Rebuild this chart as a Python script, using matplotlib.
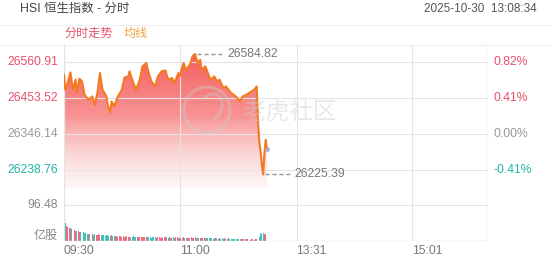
import numpy as np
import matplotlib
matplotlib.use("Agg")
import matplotlib.pyplot as plt
from matplotlib.lines import Line2D
from matplotlib.patches import Circle, Arc, Polygon

plt.rcParams['font.family'] = ['Liberation Sans', 'Noto Sans CJK SC']

# ---- data ----
prev_close = 26346.14
price_min = [0, 1, 3, 5, 7, 9, 10, 12, 14, 16, 19, 22, 24, 26, 28, 30, 33, 34,
             36, 37, 39, 42, 45, 47, 50, 51, 54, 56, 59, 61, 64, 66, 68, 71, 73,
             76, 79, 81, 84, 86, 89, 90, 93, 95, 98, 100, 102, 104, 106, 107,
             110, 112, 114, 117, 119, 121, 124, 126, 128, 130, 132, 135, 137,
             139, 142, 144, 146, 148, 150, 151, 152, 153, 154, 155, 156, 157,
             158]
price_val = [26523.0, 26478.3, 26500.0, 26529.9, 26478.3, 26508.1, 26469.3,
             26511.1, 26503.0, 26463.4, 26448.4, 26458.3, 26433.5, 26469.3,
             26528.1, 26478.3, 26458.3, 26433.5, 26410.6, 26443.4, 26428.5,
             26458.3, 26478.3, 26514.1, 26518.0, 26532.9, 26498.3, 26478.3,
             26508.1, 26547.8, 26557.9, 26528.1, 26503.0, 26488.1, 26518.0,
             26532.9, 26535.9, 26508.1, 26513.2, 26498.3, 26528.1, 26518.0,
             26557.9, 26537.9, 26552.9, 26577.6, 26584.82, 26557.9, 26567.8,
             26537.9, 26547.8, 26528.1, 26508.1, 26518.0, 26503.0, 26508.1,
             26483.4, 26488.1, 26478.3, 26468.4, 26463.4, 26453.5, 26443.4,
             26458.3, 26463.4, 26468.4, 26473.2, 26478.3, 26488.1, 26384.0,
             26324.0, 26294.0, 26255.0, 26225.39, 26290.0, 26329.0, 26300.0]

# volume per minute (09:30 .. 13:08)
volume = [139,
          47, 40, 38, 36, 34, 32, 30, 30, 28, 27,
          26, 25, 24, 22, 23, 21, 22, 20, 19, 20,
          18, 19, 17, 18, 16, 17, 18, 16, 15, 16,
          15, 14, 16, 15, 14, 13, 15, 14, 13, 14,
          13, 12, 14, 13, 12, 13, 12, 11, 13, 12,
          12, 11, 12, 13, 11, 12, 10, 12, 11, 10,
          11, 10, 12, 11, 10, 11, 10, 9, 11, 10,
          10, 9, 10, 11, 9, 10, 9, 10, 12, 10,
          9, 10, 9, 8, 10, 9, 11, 10, 9, 8,
          9, 8, 10, 9, 8, 9, 8, 9, 10, 8,
          9, 10, 8, 9, 8, 7, 8, 9, 7, 8,
          7, 8, 7, 8, 7, 6, 7, 8, 7, 6,
          7, 6, 7, 6, 7, 6, 6, 7, 6, 5,
          6, 5, 6, 5, 6, 5, 5, 6, 5, 5,
          5, 6, 5, 5, 4, 5, 5, 4, 5, 5,
          41, 12, 22, 20, 21, 20, 18, 10]
vol_dir = ("r" "g" "rrrr" "gg" "rr" "g" "rr" "ggggggg" "rrr" "gg" "rrrr"
           "gggggggg" "r" "gg" "rrrrrrrrrrrr" "ggggg" "rrrrrrrr" "ggggggg"
           "rrrrrrrr" "gg" "rrr" "gg" "rrr" "g" "rrr" "gg" "rrrrrrr" "gg" "rr"
           "g" "rrr" "gggggg" "r" "gg" "rr" "ggg" "rr" "ggggggggggg"
           "rrrrrrrrrrrrr" "ggggg" "rr" "g")

left_ticks = [26560.91, 26453.52, 26346.14, 26238.76]
right_labels = ["0.82%", "0.41%", "0.00%", "-0.41%"]
label_colors = ["#e8506e", "#e8506e", "#999999", "#1fb5a5"]
x_ticks = [0, 90, 181, 271]
x_labels = ["09:30", "11:00", "13:31", "15:01"]
vol_tick = 96.48

W, H = 552, 265
fig = plt.figure(figsize=(W / 100, H / 100), dpi=100)


def px_axes(l, t, r, b):
    return fig.add_axes([l / W, 1 - b / H, (r - l) / W, (b - t) / H])


def ftext(x, y, s, **kw):
    fig.text(x / W, 1 - y / H, s, **kw)


RED = "#e8506e"
GREEN = "#26b5a8"
GRID = "#e4e4e4"
FS = 8.7

# header
ftext(20, 9, "HSI 恒生指数 - 分时", fontsize=8.9, color="#444444", va="center")
ftext(537, 9, "2025-10-30  13:08:34", fontsize=8.5, color="#555555",
      va="center", ha="right")
ftext(64, 34, "分时走势", fontsize=8.7, color="#e8506e", va="center")
ftext(124, 34, "均线", fontsize=8.7, color="#f0a040", va="center")
for yy in (24.5, 44.5):
    fig.add_artist(Line2D([0, 1], [1 - yy / H] * 2, color="#eeeeee", lw=0.8))

# ---- main price panel ----
ax = px_axes(64, 44, 488, 188)
step = left_ticks[0] - left_ticks[1]
ax.set_ylim(left_ticks[-1] - step / 2, left_ticks[0] + step / 2)
ax.set_xlim(0, 330)

xs = np.array(price_min, dtype=float)
ys = np.array(price_val)
y0, y1 = ax.get_ylim()

# gradient fill under the line
grad = np.linspace(0, 1, 256).reshape(-1, 1)
cmap = matplotlib.colors.LinearSegmentedColormap.from_list(
    "f", [(0.99, 0.86, 0.86, 0.25), (0.97, 0.5, 0.5, 0.85),
          (0.96, 0.33, 0.33, 1.0)])
im = ax.imshow(grad, extent=[0, 330, y0, y1], origin="lower", aspect="auto",
               cmap=cmap, zorder=1)
poly = Polygon(np.column_stack([np.r_[xs, xs[-1], xs[0]],
                                np.r_[ys, y0, y0]]),
               closed=True, transform=ax.transData, facecolor="none",
               edgecolor="none")
ax.add_patch(poly)
im.set_clip_path(poly)

ax.plot(xs, ys, color="#f47a20", lw=1.5, zorder=3)
ax.scatter([xs[-1]], [ys[-1]], s=7, color="#a4a8e0", alpha=0.7, zorder=4)

for v in left_ticks:
    ax.axhline(v, color=GRID, lw=0.8, zorder=2)
for t in x_ticks[1:]:
    ax.axvline(t, color=GRID, lw=0.8, zorder=2)
ax.axvline(0, color=GRID, lw=1.0, zorder=2)
ax.axvline(330, color=GRID, lw=1.0, zorder=2)

for v, lab, c in zip(left_ticks, right_labels, label_colors):
    ax.text(-6 / 424, v, f"{v:.2f}", transform=ax.get_yaxis_transform(),
            ha="right", va="center", fontsize=FS, color=c)
    ax.text(1 + 6 / 424, v, lab, transform=ax.get_yaxis_transform(),
            ha="left", va="center", fontsize=FS, color=c)

# max / min markers
i_max, i_min = int(np.argmax(ys)), int(np.argmin(ys))
ax.plot([xs[i_max] + 1.5, xs[i_max] + 22], [ys[i_max]] * 2, ls=(0, (3, 2)),
        color="#999999", lw=1.0, zorder=3)
ax.text(xs[i_max] + 25.5, ys[i_max], f"{ys[i_max]:.2f}", fontsize=FS,
        color="#777777", va="center")
ax.plot([xs[i_min] + 1.5, xs[i_min] + 21], [ys[i_min]] * 2, ls=(0, (3, 2)),
        color="#999999", lw=1.0, zorder=3)
ax.text(xs[i_min] + 24, ys[i_min], f"{ys[i_min]:.2f}", fontsize=FS,
        color="#777777", va="center")

ax.set_xticks([])
ax.set_yticks([])
for s in ax.spines.values():
    s.set_visible(False)

# ---- volume panel ----
av = px_axes(64, 188, 488, 241)
av.set_xlim(0, 330)
av.set_ylim(0, vol_tick * 53 / 36)
vcolors = [RED if d == "r" else GREEN for d in vol_dir]
av.bar(np.arange(len(volume)), volume, width=0.75, color=vcolors,
       alpha=0.85, zorder=3)
av.axhline(vol_tick, color=GRID, lw=0.8, zorder=1)
for t in x_ticks[1:]:
    av.axvline(t, color=GRID, lw=0.8, zorder=1)
av.axvline(0, color=GRID, lw=1.0, zorder=1)
av.axvline(330, color=GRID, lw=1.0, zorder=1)
av.axhline(0, color="#dddddd", lw=1.0, zorder=4)
av.text(-6 / 424, vol_tick, f"{vol_tick:.2f}", transform=av.get_yaxis_transform(),
        ha="right", va="center", fontsize=FS, color="#888888")
av.text(-6 / 424, 0.1, "亿股", transform=av.transAxes, ha="right",
        va="center", fontsize=FS, color="#888888")
av.set_xticks(x_ticks)
av.set_xticklabels(x_labels, fontsize=FS, color="#777777", ha="left")
av.tick_params(axis="x", length=0, pad=3)
av.set_yticks([])
for s in av.spines.values():
    s.set_visible(False)

# watermark
wm = fig.add_axes([0, 0, 1, 1], facecolor="none")
wm.set_xlim(0, W)
wm.set_ylim(H, 0)
wm.axis("off")
wm.add_patch(Circle((207, 110), 23, fill=False, lw=2.2, color="#cccccc",
                    alpha=0.4))
wm.add_patch(Arc((210, 108), 22, 30, angle=30, theta1=200, theta2=40,
                 lw=2.2, color="#cccccc", alpha=0.4))
wm.text(242, 113, "老虎社区", fontsize=17, color="#cccccc", alpha=0.45,
        va="center", family=["Noto Sans CJK SC"])

fig.savefig("out.png", dpi=100)
